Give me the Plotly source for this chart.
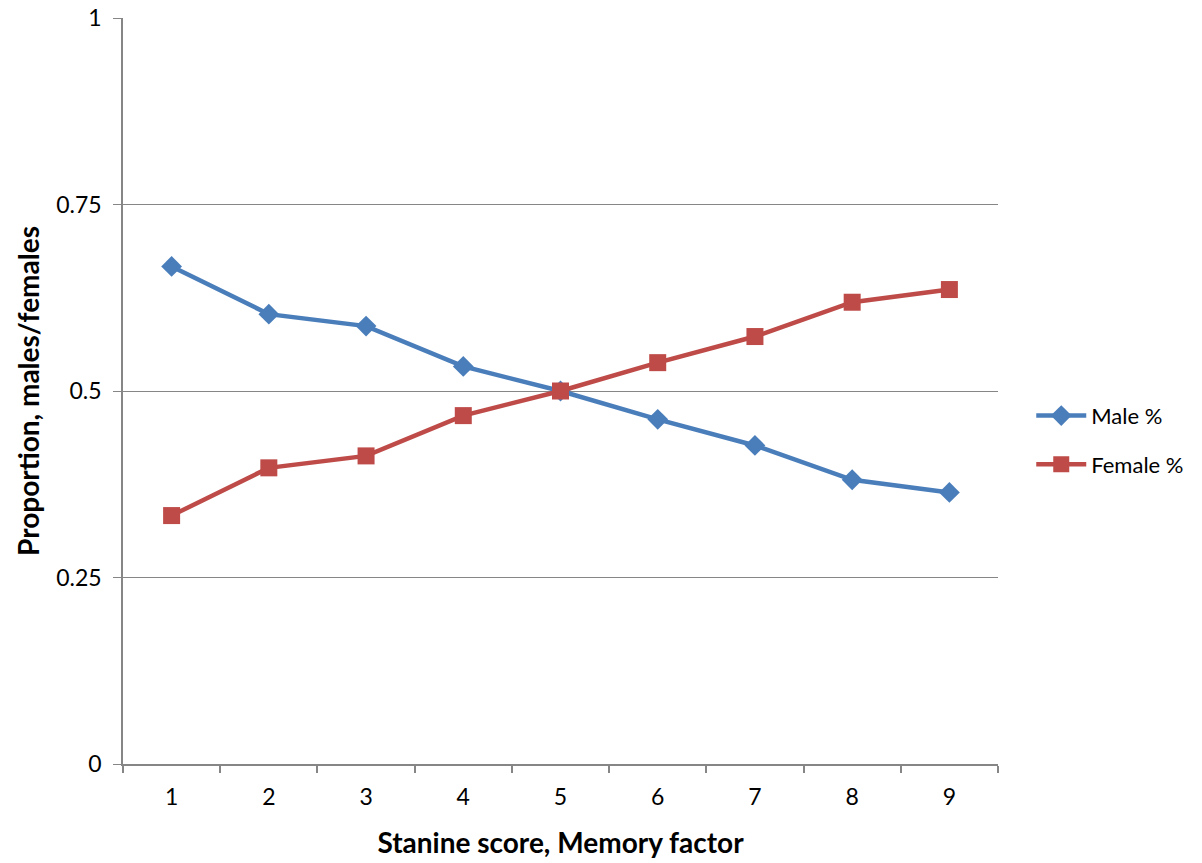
import plotly.graph_objects as go

# Stanine scores for the memory factor and the share of each sex per score
stanine = ["1", "2", "3", "4", "5", "6", "7", "8", "9"]
male_pct = [0.667, 0.603, 0.587, 0.533, 0.500, 0.462, 0.427, 0.381, 0.364]
female_pct = [0.333, 0.397, 0.413, 0.467, 0.500, 0.538, 0.573, 0.619, 0.636]
y_ticks = [0, 0.25, 0.5, 0.75, 1]
y_tick_text = ["0", "0.25", "0.5", "0.75", "1"]

BLUE = "#4A7EBB"
RED = "#BE4B48"
GRID = "#868686"
FONT = "Lato, 'Open Sans', sans-serif"

fig = go.Figure()
fig.add_trace(go.Scatter(
    x=stanine, y=male_pct, name="Male %", mode="lines+markers",
    legendgroup="m",
    line=dict(color=BLUE, width=4.5),
    marker=dict(symbol="diamond", size=16, color=BLUE),
))
fig.add_trace(go.Scatter(
    x=stanine, y=female_pct, name="Female %", mode="lines+markers",
    legendgroup="f",
    line=dict(color=RED, width=4.5),
    marker=dict(symbol="square", size=17, color=RED),
))

fig.update_layout(
    width=1202, height=863,
    margin=dict(l=123, r=204, t=18, b=99, autoexpand=False),
    paper_bgcolor="white", plot_bgcolor="white",
    font=dict(family=FONT, size=23, color="#000000"),
    legend=dict(
        x=1.038, y=0.434, xanchor="left", yanchor="middle",
        font=dict(size=22), tracegroupgap=17, itemwidth=50,
        bgcolor="rgba(0,0,0,0)",
    ),
    xaxis=dict(
        type="category", categoryorder="array", categoryarray=stanine,
        range=[-0.5, 8.5], automargin=False,
        showgrid=False, showline=True, linecolor=GRID, linewidth=1.5,
        ticks="outside", tickson="boundaries", ticklen=7, tickcolor=GRID,
        tickwidth=1.5, ticklabelstandoff=12, zeroline=False,
        title=dict(text="<b>Stanine score, Memory factor</b>",
                   font=dict(size=28), standoff=24),
    ),
    yaxis=dict(
        range=[0, 1], tickvals=y_ticks, ticktext=y_tick_text,
        automargin=False,
        showgrid=True, gridcolor=GRID, gridwidth=1.2,
        showline=True, linecolor=GRID, linewidth=1.5,
        ticks="outside", ticklen=8, tickcolor=GRID, tickwidth=1.2,
        ticklabelstandoff=7, zeroline=False,
        title=dict(text="<b>Proportion, males/females</b>",
                   font=dict(size=28), standoff=8),
    ),
)

fig.write_html("out.html")
